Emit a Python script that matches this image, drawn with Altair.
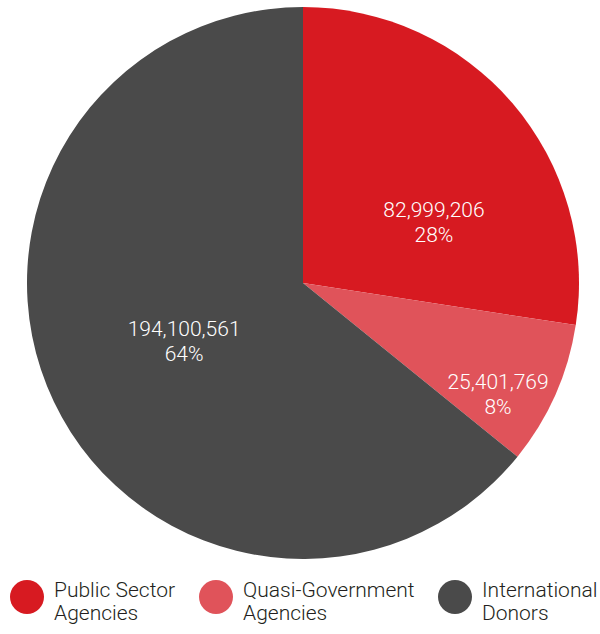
import altair as alt
import pandas as pd

categories = ["Public Sector Agencies", "Quasi-Government Agencies", "International Donors"]
amounts = [82999206, 25401769, 194100561]
pct_labels = [28, 8, 64]
colors = ["#D71A21", "#E0535A", "#4A4A4A"]

df = pd.DataFrame({
    "category": categories,
    "amount": amounts,
    "pct": pct_labels,
    "idx": list(range(len(categories))),
})

FONT = "Roboto"
CX, CY, R = 303, 283, 276

base = (
    alt.Chart(df)
    .transform_joinaggregate(total="sum(amount)")
    .transform_window(cum="sum(amount)", sort=[alt.SortField("idx")])
    .transform_calculate(
        start="(datum.cum - datum.amount) / datum.total",
        end="datum.cum / datum.total",
        mid="(datum.cum - datum.amount / 2) / datum.total",
        lbl="[format(datum.amount, ','), datum.pct + '%']",
    )
)

theta_scale = alt.Scale(domain=[0, 1], zero=True)

arcs = base.mark_arc(x=CX, y=CY, radius=R, strokeWidth=0).encode(
    theta=alt.Theta("start:Q", scale=theta_scale, stack=None),
    theta2="end:Q",
    color=alt.Color(
        "category:N",
        scale=alt.Scale(domain=categories, range=colors),
        legend=alt.Legend(
            title=None,
            orient="none",
            legendX=10,
            legendY=580,
            direction="horizontal",
            columns=3,
            columnPadding=23,
            symbolType="circle",
            symbolSize=1156,
            symbolStrokeWidth=0,
            symbolOpacity=1,
            labelOffset=10,
            labelFont=FONT,
            labelFontSize=21,
            labelFontWeight=300,
            labelColor="#231F20",
            labelLimit=400,
            labelBaseline="alphabetic",
            labelExpr="[slice(datum.label, 0, lastindexof(datum.label, ' ')), slice(datum.label, lastindexof(datum.label, ' ') + 1)]",
        ),
    ),
)

# per-slice label placement (radius, angular nudge in radians)
label_place = {
    "Public Sector Agencies": (144, 0.28),
    "Quasi-Government Agencies": (225, 0.105),
    "International Donors": (133, -0.02),
}

layers = [arcs]
for cat, (rad, off) in label_place.items():
    layers.append(
        base.transform_filter(alt.datum.category == cat)
        .mark_text(
            x=CX, y=CY, radius=rad, thetaOffset=off,
            font=FONT, fontSize=21, fontWeight=300, color="#FFFFFF",
            lineHeight=25, dy=-12.5, align="center", baseline="middle",
        )
        .encode(
            theta=alt.Theta("mid:Q", scale=theta_scale, stack=None),
            text="lbl:N",
        )
    )

chart = (
    alt.layer(*layers)
    .properties(width=600, height=634, autosize=alt.AutoSizeParams(type="none"), padding=0)
    .configure_view(stroke=None)
    .configure(background="#FFFFFF")
)

chart.save("out.html", embed_options={"renderer": "svg", "actions": False})
